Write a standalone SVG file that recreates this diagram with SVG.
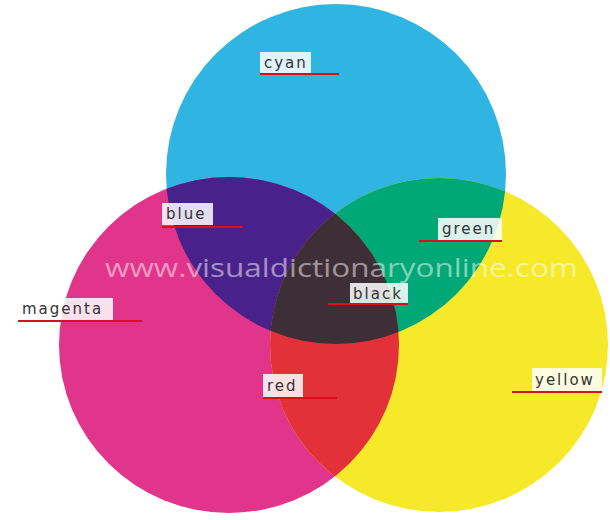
<svg xmlns="http://www.w3.org/2000/svg" width="610" height="520" viewBox="0 0 610 520">
<style>
.lbl rect{fill:#ffffff;fill-opacity:0.85}
.lbl text{font-family:"DejaVu Sans","Noto Sans",sans-serif;font-size:15px;fill:#333;letter-spacing:2px}
.ul{stroke:#d8101c;stroke-width:2;fill:none}
.wm{font-family:"Open Sans","Noto Sans",sans-serif;font-size:26px;fill:#ffffff;fill-opacity:0.5}
</style>
<defs>
<clipPath id="cC"><ellipse cx="336" cy="174" rx="170" ry="170"/></clipPath>
<clipPath id="cM"><ellipse cx="229" cy="345" rx="170" ry="168"/></clipPath>
<clipPath id="cY"><ellipse cx="439" cy="345" rx="169" ry="167"/></clipPath>
</defs>
<rect width="610" height="520" fill="#ffffff"/>
<g id="cyan-circle"><ellipse cx="336" cy="174" rx="170" ry="170" fill="#30b4e2"/></g>
<g id="magenta-circle"><ellipse cx="229" cy="345" rx="170" ry="168" fill="#e0358a"/></g>
<g id="yellow-circle"><ellipse cx="439" cy="345" rx="169" ry="167" fill="#f5e92a"/></g>
<g id="blue-region" clip-path="url(#cC)"><ellipse cx="229" cy="345" rx="170" ry="168" fill="#48228a"/></g>
<g id="green-region" clip-path="url(#cC)"><ellipse cx="439" cy="345" rx="169" ry="167" fill="#00a777"/></g>
<g id="red-region" clip-path="url(#cM)"><ellipse cx="439" cy="345" rx="169" ry="167" fill="#e3313a"/></g>
<g id="black-region" clip-path="url(#cC)"><g clip-path="url(#cM)"><ellipse cx="439" cy="345" rx="169" ry="167" fill="#3e2e36"/></g></g>
<text class="wm" x="105" y="277" textLength="473" lengthAdjust="spacingAndGlyphs">www.visualdictionaryonline.com</text>
<g id="connectors">
<line class="ul" x1="260" y1="74" x2="339" y2="74"/>
<line class="ul" x1="162" y1="227" x2="243" y2="227"/>
<line class="ul" x1="419" y1="241" x2="502" y2="241"/>
<line class="ul" x1="18" y1="321" x2="142" y2="321"/>
<line class="ul" x1="328" y1="304" x2="408" y2="304"/>
<line class="ul" x1="263" y1="398" x2="337" y2="398"/>
<line class="ul" x1="512" y1="392" x2="602" y2="392"/>
</g>
<g id="label-cyan" class="lbl"><rect x="260" y="52" width="51" height="21"/><text x="264" y="68">cyan</text></g>
<g id="label-blue" class="lbl"><rect x="162" y="203" width="51" height="22"/><text x="166" y="219">blue</text></g>
<g id="label-green" class="lbl"><rect x="438" y="218" width="64" height="22"/><text x="442" y="234">green</text></g>
<g id="label-magenta" class="lbl"><rect x="19" y="298" width="94" height="22"/><text x="22" y="314">magenta</text></g>
<g id="label-black" class="lbl"><rect x="350" y="283" width="58" height="20"/><text x="353" y="299">black</text></g>
<g id="label-red" class="lbl"><rect x="263" y="374" width="40" height="23"/><text x="267" y="391">red</text></g>
<g id="label-yellow" class="lbl"><rect x="532" y="368" width="70" height="23"/><text x="535" y="385">yellow</text></g>
</svg>
